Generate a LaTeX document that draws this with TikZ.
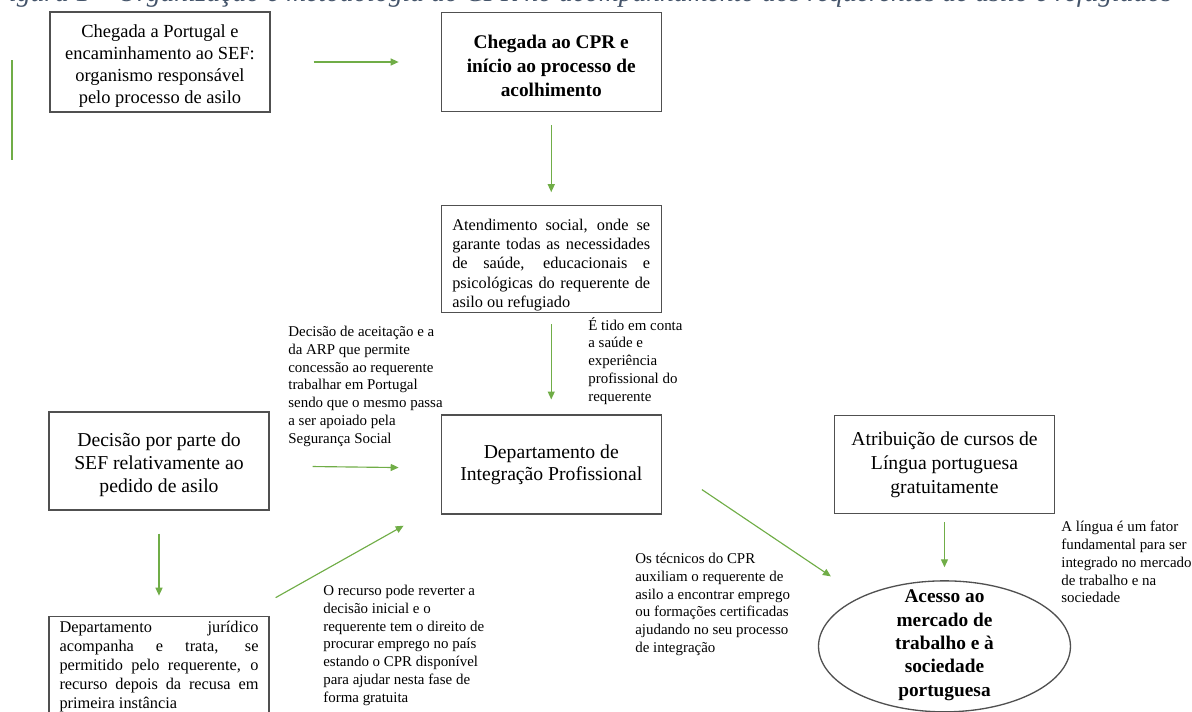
\documentclass[tikz,border=0pt]{standalone}
\usepackage{fontspec}
\setmainfont{Liberation Serif}
\usetikzlibrary{shapes.geometric,arrows.meta,positioning,calc}
\definecolor{arrowgreen}{HTML}{70AD47}
\definecolor{boxgray}{HTML}{505050}
\definecolor{captionblue}{HTML}{44546A}
\newcommand{\firstline}[1]{\rule{0pt}{#1}}

\begin{document}
\begin{tikzpicture}[x=0.02cm, y=-0.02cm,
    box/.style = {draw=boxgray, line width=0.75pt, minimum width=4.4cm, align=center, inner sep=0pt},
    jbox/.style = {box, align=justify, font=\fontsize{9.3}{11.05}\selectfont},
    lbl/.style = {anchor=north west, inner sep=0pt, align=left, font=\fontsize{8.5}{10.1}\selectfont},
    arr/.style = {draw=arrowgreen, line width=0.65pt, -{Triangle[length=4.5pt,width=4pt]}}]
  \path[use as bounding box, clip] (0,0) rectangle (1192,711);
  % caption cut by the top edge
  \node (cap) [anchor=base west, inner sep=0pt, text=captionblue, font=\itshape\fontsize{15.7}{18}\selectfont] at (-8,1)
    {Figura 1 -- Organização e metodologia do CPR no acompanhamento dos requerentes de asilo e refugiados};
  \draw[draw=arrowgreen, line width=0.8pt] (12,60) -- (12,160);

  % boxes
  \node (a) [box, minimum height=2cm, font=\fontsize{10.5}{12.5}\selectfont] at (160,62)
    {\firstline{11.7pt}Chegada a Portugal e\\encaminhamento ao SEF:\\organismo responsável\\pelo processo de asilo};
  \node (b) [box, minimum height=1.98cm, right=3.4cm of a, font=\bfseries\fontsize{11}{13.6}\selectfont]
    {\firstline{12pt}Chegada ao CPR e\\início ao processo de\\acolhimento};
  \node (c) [jbox, minimum height=2.14cm, below=1.86cm of b, text width=3.96cm, inner xsep=0.22cm]
    {\tolerance=10000\relax\firstline{13pt}Atendimento social, onde se\linebreak garante todas as necessidades\linebreak de saúde, educacionais e\linebreak psicológicas do requerente de\linebreak asilo ou refugiado};
  \node (d) [box, minimum height=1.98cm, below=2.02cm of c, font=\fontsize{11.2}{12.8}\selectfont]
    {Departamento de\\Integração Profissional};
  \node (e) [box, minimum height=1.96cm, font=\fontsize{11.2}{13}\selectfont] at (159,461)
    {\firstline{12pt}Decisão por parte do\\SEF relativamente ao\\pedido de asilo};
  \node (f) [jbox, below=2.1cm of e, text width=3.98cm, inner xsep=0.21cm, inner ysep=0.09cm, font=\fontsize{9.3}{10.8}\selectfont]
    {\tolerance=10000\relax Departamento jurídico\linebreak acompanha e trata, se\linebreak permitido pelo requerente, o\linebreak recurso depois da recusa em\linebreak primeira instância};
  \node (g) [box, minimum height=1.96cm, right=3.44cm of d, font=\fontsize{11.2}{13.6}\selectfont]
    {Atribuição de cursos de\\Língua portuguesa\\gratuitamente};
  \node (h) [draw=boxgray, line width=0.75pt, ellipse, minimum width=5.04cm, minimum height=2.62cm, inner sep=0pt, below=1.32cm of g] {};
  \node (ht) [align=center, inner sep=0pt, yshift=0.02cm, font=\bfseries\fontsize{11}{13.3}\selectfont] at (h)
    {Acesso ao\\mercado de\\trabalho e à\\sociedade\\portuguesa};

  % labels
  \node (l1) [lbl] at (288,326) {Decisão de aceitação e a\\da ARP que permite\\concessão ao requerente\\trabalhar em Portugal\\sendo que o mesmo passa\\a ser apoiado pela\\Segurança Social};
  \node (l2) [lbl] at (588,317) {É tido em conta\\a saúde e\\experiência\\profissional do\\requerente};
  \node (l3) [lbl] at (323,585) {O recurso pode reverter a\\decisão inicial e o\\requerente tem o direito de\\procurar emprego no país\\estando o CPR disponível\\para ajudar nesta fase de\\forma gratuita};
  \node (l4) [lbl] at (635,553) {Os técnicos do CPR\\auxiliam o requerente de\\asilo a encontrar emprego\\ou formações certificadas\\ajudando no seu processo\\de integração};
  \node (l5) [lbl] at (1061,521) {A língua é um fator\\fundamental para ser\\integrado no mercado\\de trabalho e na\\sociedade};

  % arrows
  \draw[arr, shorten <=0.86cm, shorten >=0.84cm] (a) -- (b);
  \draw[arr, shorten <=0.26cm, shorten >=0.26cm] (b) -- (c);
  \draw[arr, shorten <=0.22cm, shorten >=0.3cm] (c) -- (d);
  \draw[arr, shorten <=0.86cm, shorten >=0.84cm] ([yshift=-0.1cm]e.east) -- ([yshift=-0.07cm]d.west);
  \draw[arr, shorten <=0.46cm, shorten >=0.4cm] (e) -- (f);
  \draw[arr] ($(f.north east)+(6,-18)$) -- ($(d.south west)+(-37,11)$);
  \draw[arr] ($(d.east)+(40,25)$) -- ($(h.west)+(13,-70)$);
  \draw[arr, shorten <=0.16cm, shorten >=0.26cm] (g) -- (h);
\end{tikzpicture}
\end{document}
